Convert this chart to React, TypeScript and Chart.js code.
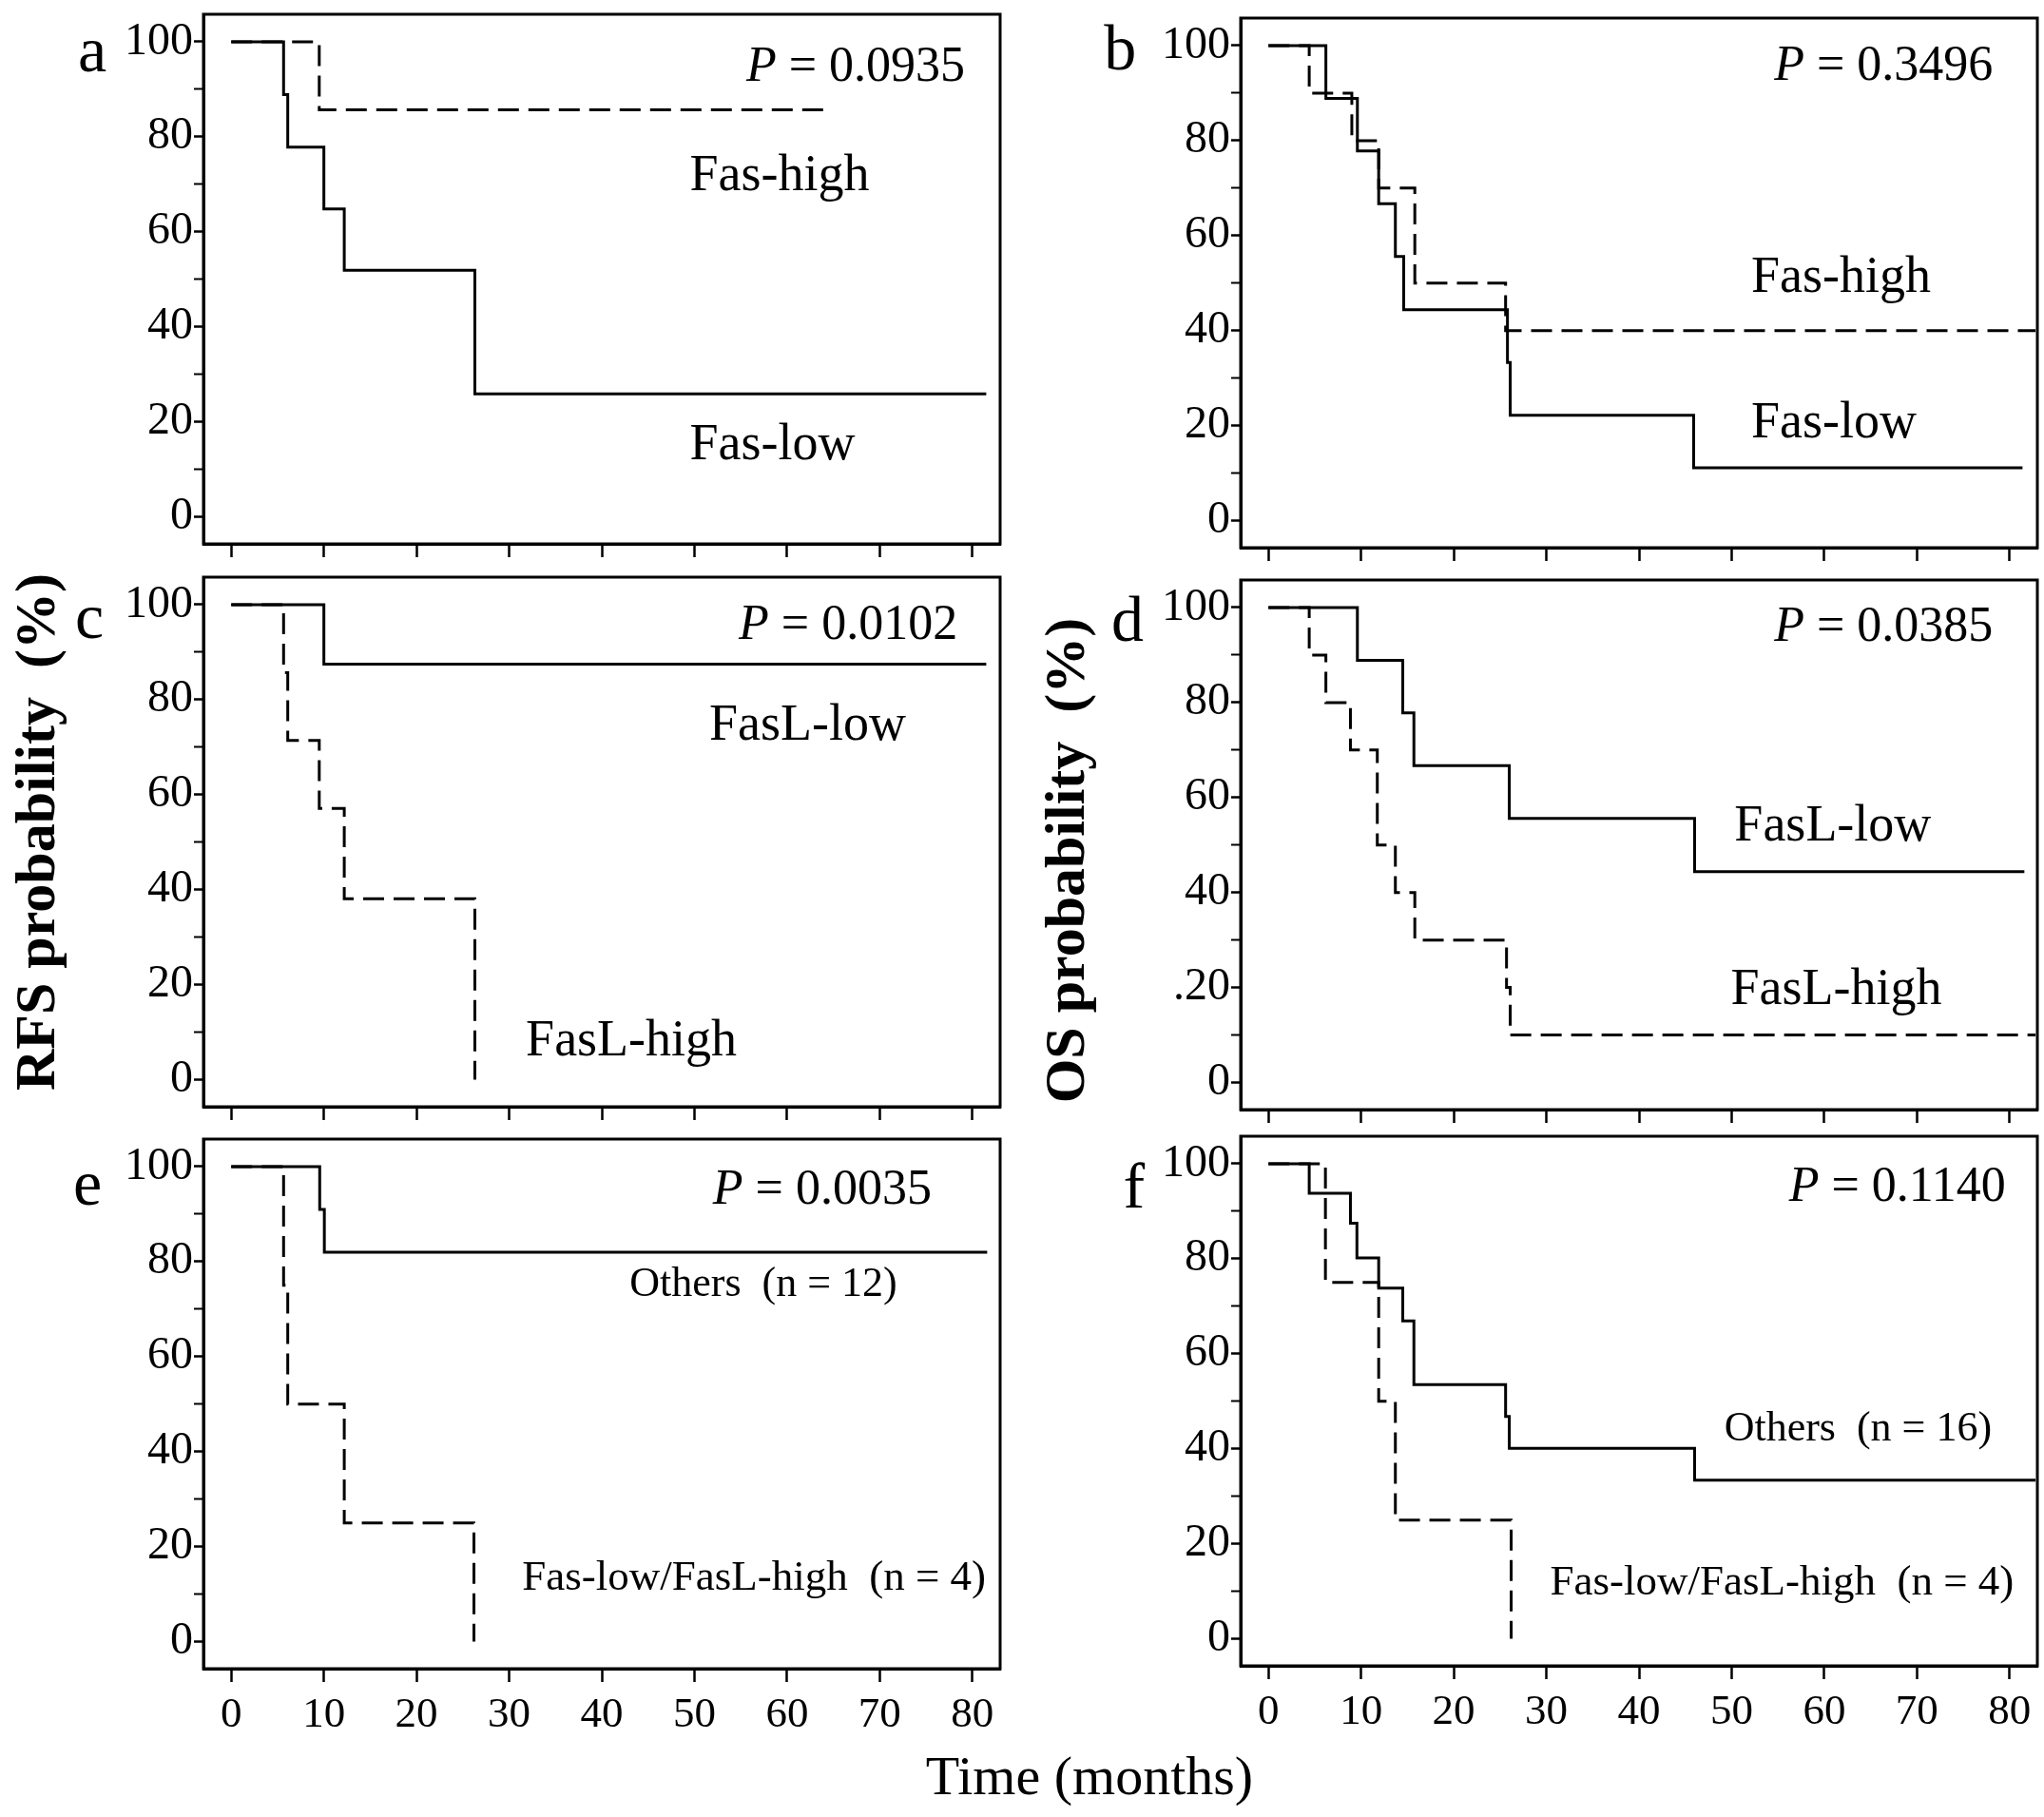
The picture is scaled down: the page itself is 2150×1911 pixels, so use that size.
import React, { useEffect, useRef } from "react";
import { Chart, registerables } from "chart.js";

Chart.register(...registerables);

// ---------------- data ----------------
const xTickValues = [0, 10, 20, 30, 40, 50, 60, 70, 80];
const yTickValues = [0, 10, 20, 30, 40, 50, 60, 70, 80, 90, 100];
const yTickLabels = ["0", "", "20", "", "40", "", "60", "", "80", "", "100"];
const yTickLabelsD = ["0", "", ".20", "", "40", "", "60", "", "80", "", "100"];

// a: RFS by Fas
const aLowTimes = [0, 5.65, 6.1, 10.0, 12.2, 26.3, 81.5];
const aLowSurv = [100, 88.9, 77.8, 64.8, 51.9, 25.9, 25.9];
const aHighTimes = [0, 9.5, 64.3];
const aHighSurv = [100, 85.7, 85.7];

// b: OS by Fas
const bLowTimes = [0, 6.2, 9.6, 11.9, 13.7, 14.6, 25.8, 26.1, 45.9, 81.4];
const bLowSurv = [100, 88.9, 77.8, 66.7, 55.6, 44.4, 33.3, 22.2, 11.1, 11.1];
const bHighTimes = [0, 4.4, 9.0, 11.9, 15.8, 25.6, 82.8];
const bHighSurv = [100, 90, 80, 70, 50, 40, 40];

// c: RFS by FasL
const cLowTimes = [0, 10.0, 81.5];
const cLowSurv = [100, 87.5, 87.5];
const cHighTimes = [0, 5.65, 6.1, 9.5, 12.2, 26.3];
const cHighSurv = [100, 85.7, 71.4, 57.1, 38.1, 0];

// d: OS by FasL
const dLowTimes = [0, 9.6, 14.5, 15.7, 26.0, 46.0, 81.6];
const dLowSurv = [100, 88.9, 77.8, 66.7, 55.6, 44.4, 44.4];
const dHighTimes = [0, 4.4, 6.2, 8.85, 11.75, 13.7, 15.8, 25.7, 26.1, 82.8];
const dHighSurv = [100, 90, 80, 70, 50, 40, 30, 20, 10, 10];

// e: RFS, combined
const eOthersTimes = [0, 9.55, 10.05, 81.6];
const eOthersSurv = [100, 91, 82, 82];
const eComboTimes = [0, 5.65, 6.1, 12.2, 26.2];
const eComboSurv = [100, 75, 50, 25, 0];

// f: OS, combined
const fOthersTimes = [0, 4.4, 8.85, 9.55, 11.9, 14.5, 15.7, 25.6, 26.0, 46.0, 82.8];
const fOthersSurv = [100, 93.8, 87.5, 80.2, 73.8, 66.9, 53.5, 46.8, 40.1, 33.4, 33.4];
const fComboTimes = [0, 6.15, 11.9, 13.7, 26.2];
const fComboSurv = [100, 75, 50, 25, 0];

// ---------------- layout / style ----------------
const SERIF = '"Liberation Serif", "Times New Roman", serif';
const X_MIN = -3;
const X_MAX = 83;
const Y_MIN = -5.7;
const Y_MAX = 105.8;
const BOX_H = 557;
const Y_AXIS_W = 150;
const PAD_TOP = 40;
const PAD_RIGHT = 6;
const X_AXIS_H_TOP = 40;
const X_AXIS_H_BOTTOM = 84;
const LINE_W = 3;
const DASH = [22, 10];
const P_SIZE = 52;

type Series = { t: number[]; s: number[]; dashed: boolean };
type Label = { text: string; x: number; y: number; size: number };
type PanelCfg = {
  id: string;
  left: number;
  top: number;
  right: number;
  bottomRow: boolean;
  yLabels: string[];
  letterPos: { x: number; y: number };
  pValue: string;
  pPos: { x: number; y: number };
  labels: Label[];
  series: Series[];
};

const PANELS: PanelCfg[] = [
  {
    id: "a", left: 214, top: 15, right: 1052, bottomRow: false, yLabels: yTickLabels,
    letterPos: { x: -15, y: 93.7 }, pValue: "0.0935", pPos: { x: 79.2, y: 91.8 },
    labels: [
      { text: "Fas-high", x: 49.5, y: 68.8, size: 54 },
      { text: "Fas-low", x: 49.5, y: 12.1, size: 54 },
    ],
    series: [
      { t: aLowTimes, s: aLowSurv, dashed: false },
      { t: aHighTimes, s: aHighSurv, dashed: true },
    ],
  },
  {
    id: "b", left: 1305, top: 19, right: 2143, bottomRow: false, yLabels: yTickLabels,
    letterPos: { x: -16, y: 94.9 }, pValue: "0.3496", pPos: { x: 78.2, y: 92.7 },
    labels: [
      { text: "Fas-high", x: 52.1, y: 48.2, size: 54 },
      { text: "Fas-low", x: 52.1, y: 17.5, size: 54 },
    ],
    series: [
      { t: bLowTimes, s: bLowSurv, dashed: false },
      { t: bHighTimes, s: bHighSurv, dashed: true },
    ],
  },
  {
    id: "c", left: 214, top: 607, right: 1052, bottomRow: false, yLabels: yTickLabels,
    letterPos: { x: -15.3, y: 93.0 }, pValue: "0.0102", pPos: { x: 78.4, y: 92.8 },
    labels: [
      { text: "FasL-low", x: 51.6, y: 71.5, size: 54 },
      { text: "FasL-high", x: 31.8, y: 5.2, size: 54 },
    ],
    series: [
      { t: cLowTimes, s: cLowSurv, dashed: false },
      { t: cHighTimes, s: cHighSurv, dashed: true },
    ],
  },
  {
    id: "d", left: 1305, top: 610, right: 2143, bottomRow: false, yLabels: yTickLabelsD,
    letterPos: { x: -15.2, y: 92.9 }, pValue: "0.0385", pPos: { x: 78.2, y: 92.9 },
    labels: [
      { text: "FasL-low", x: 50.3, y: 51.0, size: 54 },
      { text: "FasL-high", x: 49.9, y: 16.5, size: 54 },
    ],
    series: [
      { t: dLowTimes, s: dLowSurv, dashed: false },
      { t: dHighTimes, s: dHighSurv, dashed: true },
    ],
  },
  {
    id: "e", left: 214, top: 1198, right: 1052, bottomRow: true, yLabels: yTickLabels,
    letterPos: { x: -15.5, y: 92.0 }, pValue: "0.0035", pPos: { x: 75.6, y: 92.2 },
    labels: [
      { text: "Others  (n = 12)", x: 43.0, y: 72.8, size: 44 },
      { text: "Fas-low/FasL-high  (n = 4)", x: 31.4, y: 11.0, size: 45 },
    ],
    series: [
      { t: eOthersTimes, s: eOthersSurv, dashed: false },
      { t: eComboTimes, s: eComboSurv, dashed: true },
    ],
  },
  {
    id: "f", left: 1305, top: 1195, right: 2143, bottomRow: true, yLabels: yTickLabels,
    letterPos: { x: -14.5, y: 90.8 }, pValue: "0.1140", pPos: { x: 79.6, y: 92.2 },
    labels: [
      { text: "Others  (n = 16)", x: 49.2, y: 41.7, size: 44 },
      { text: "Fas-low/FasL-high  (n = 4)", x: 30.4, y: 9.4, size: 45 },
    ],
    series: [
      { t: fOthersTimes, s: fOthersSurv, dashed: false },
      { t: fComboTimes, s: fComboSurv, dashed: true },
    ],
  },
];

function makePanelPlugin(p: PanelCfg) {
  return {
    id: "panelDecor" + p.id,
    afterDraw(chart: any) {
      const { ctx, chartArea, scales } = chart;
      const xs = scales.x;
      const ys = scales.y;
      ctx.save();
      ctx.strokeStyle = "#000";
      ctx.lineWidth = 3;
      ctx.strokeRect(
        chartArea.left,
        chartArea.top,
        chartArea.right - chartArea.left,
        chartArea.bottom - chartArea.top
      );
      ctx.fillStyle = "#000";
      ctx.textBaseline = "alphabetic";
      // panel letter
      ctx.font = `68px ${SERIF}`;
      ctx.textAlign = "center";
      ctx.fillText(p.id, xs.getPixelForValue(p.letterPos.x), ys.getPixelForValue(p.letterPos.y));
      // P value
      ctx.textAlign = "left";
      const rest = " = " + p.pValue;
      ctx.font = `italic ${P_SIZE}px ${SERIF}`;
      const wP = ctx.measureText("P").width;
      ctx.font = `${P_SIZE}px ${SERIF}`;
      const wR = ctx.measureText(rest).width;
      const xr = xs.getPixelForValue(p.pPos.x);
      const yb = ys.getPixelForValue(p.pPos.y);
      ctx.font = `italic ${P_SIZE}px ${SERIF}`;
      ctx.fillText("P", xr - wR - wP, yb);
      ctx.font = `${P_SIZE}px ${SERIF}`;
      ctx.fillText(rest, xr - wR, yb);
      // curve labels
      for (const l of p.labels) {
        ctx.font = `${l.size}px ${SERIF}`;
        ctx.fillText(l.text, xs.getPixelForValue(l.x), ys.getPixelForValue(l.y));
      }
      ctx.restore();
    },
  };
}

function Panel({ cfg }: { cfg: PanelCfg }) {
  const ref = useRef<HTMLCanvasElement>(null);
  const w = Y_AXIS_W + (cfg.right - cfg.left) + PAD_RIGHT;
  const xh = cfg.bottomRow ? X_AXIS_H_BOTTOM : X_AXIS_H_TOP;
  const h = PAD_TOP + BOX_H + xh;

  useEffect(() => {
    if (!ref.current) return;
    const chart = new Chart(ref.current, {
      type: "line",
      data: {
        datasets: cfg.series.map((s) => ({
          data: s.t.map((t, i) => ({ x: t, y: s.s[i] })),
          borderColor: "#000",
          borderWidth: LINE_W,
          borderDash: s.dashed ? DASH : [],
          borderCapStyle: "butt",
          borderJoinStyle: "miter",
          stepped: true,
          pointRadius: 0,
          pointHoverRadius: 0,
          fill: false,
        })),
      },
      options: {
        animation: false,
        responsive: false,
        devicePixelRatio: 1,
        events: [],
        layout: { padding: { left: 0, top: PAD_TOP, right: PAD_RIGHT, bottom: 0 } },
        plugins: {
          legend: { display: false },
          tooltip: { enabled: false },
          title: { display: false },
        },
        scales: {
          x: {
            type: "linear",
            min: X_MIN,
            max: X_MAX,
            afterBuildTicks: (s: any) => {
              s.ticks = xTickValues.map((v) => ({ value: v }));
            },
            afterFit: (s: any) => {
              s.height = xh;
            },
            grid: {
              drawOnChartArea: false,
              drawTicks: true,
              tickLength: 14,
              tickWidth: 2.5,
              tickColor: "#000",
            },
            border: { display: true, color: "#000", width: 3 },
            ticks: {
              autoSkip: false,
              maxRotation: 0,
              minRotation: 0,
              padding: 8,
              color: "#000",
              font: { family: SERIF, size: 45 },
              callback: (v: any) => (cfg.bottomRow ? String(v) : ""),
            },
          },
          y: {
            type: "linear",
            min: Y_MIN,
            max: Y_MAX,
            afterBuildTicks: (s: any) => {
              s.ticks = yTickValues.map((v) => ({ value: v }));
            },
            afterFit: (s: any) => {
              s.width = Y_AXIS_W;
            },
            grid: {
              drawOnChartArea: false,
              drawTicks: true,
              tickLength: 10,
              tickWidth: (c: any) => (c.index % 2 === 0 ? 2.5 : 2),
              tickColor: "#000",
            },
            border: { display: true, color: "#000", width: 3 },
            ticks: {
              autoSkip: false,
              padding: 1,
              color: "#000",
              font: { family: SERIF, size: 48 },
              callback: (_v: any, i: number) => cfg.yLabels[i] ?? "",
            },
          },
        },
      },
      plugins: [makePanelPlugin(cfg)],
    } as any);
    return () => chart.destroy();
  }, []);

  return (
    <canvas
      ref={ref}
      width={w}
      height={h}
      style={{
        position: "absolute",
        left: cfg.left - Y_AXIS_W,
        top: cfg.top - PAD_TOP,
        width: w,
        height: h,
      }}
    />
  );
}

const rotTitle: React.CSSProperties = {
  position: "absolute",
  fontFamily: SERIF,
  fontWeight: "bold",
  fontSize: 60,
  lineHeight: "60px",
  whiteSpace: "pre",
  color: "#000",
  transform: "translate(-50%, -50%) rotate(-90deg)",
};

export default function App() {
  return (
    <div
      style={{
        position: "absolute",
        left: 0,
        top: 0,
        width: 2150,
        height: 1911,
        background: "#fff",
        overflow: "hidden",
      }}
    >
      {PANELS.map((p) => (
        <Panel key={p.id} cfg={p} />
      ))}
      <div style={{ ...rotTitle, left: 37, top: 875 }}>{"RFS probability  (%)"}</div>
      <div style={{ ...rotTitle, left: 1120, top: 905 }}>{"OS probability  (%)"}</div>
      <div
        style={{
          position: "absolute",
          left: 1146,
          top: 1868,
          transform: "translate(-50%, -50%)",
          fontFamily: SERIF,
          fontSize: 58,
          lineHeight: "58px",
          whiteSpace: "pre",
          color: "#000",
        }}
      >
        {"Time (months)"}
      </div>
    </div>
  );
}
